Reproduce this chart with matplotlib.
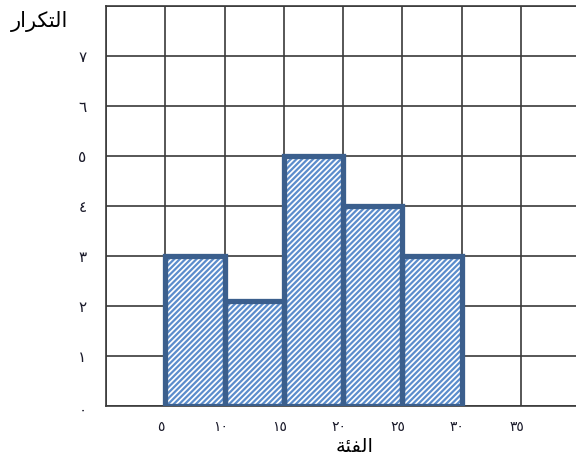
import matplotlib
matplotlib.use("Agg")
import matplotlib.pyplot as plt

# class intervals (left edges) and frequencies
class_starts = [5, 10, 15, 20, 25]
class_width = 5
freqs = [3, 2.1, 5, 4, 3]

x_ticks = [5, 10, 15, 20, 25, 30, 35]
x_labels = ["٥", "١٠", "١٥", "٢٠", "٢٥", "٣٠", "٣٥"]
y_ticks = [0, 1, 2, 3, 4, 5, 6, 7]
y_labels = ["٠", "١", "٢", "٣", "٤", "٥", "٦", "٧"]

# Arabic titles written in presentation forms (visual order) since matplotlib does no shaping
y_title = "\ufead\ufe8d\ufeae\ufedc\ufe98\ufedf\ufe8d"   # التكرار
x_title = "\ufe94\ufe8c\ufed4\ufedf\ufe8d"               # الفئة

plt.rcParams['font.family'] = ['DejaVu Sans']
plt.rcParams['hatch.linewidth'] = 1.6

fig = plt.figure(figsize=(5.76, 4.63), dpi=100)
ax = fig.add_axes([106/576, 57/463, 474/576, 400/463])

edge = "#3b5f8d"
stripe = "#5b8dcc"

# hatched fill, then the thick outline on top
ax.bar(class_starts, freqs, width=class_width, align='edge', color='white',
       edgecolor=stripe, linewidth=0, hatch='//////', zorder=2)
ax.bar(class_starts, freqs, width=class_width, align='edge', fill=False,
       edgecolor=edge, linewidth=3.8, zorder=3)

ax.set_xlim(0, 40)
ax.set_ylim(0, 8)
ax.set_xticks(range(0, 41, 5))
ax.set_yticks(range(0, 9))
ax.grid(True, color='#3a3a3a', linewidth=1.2, zorder=0)
ax.set_axisbelow(True)
for s in ax.spines.values():
    s.set_color('#3a3a3a')
    s.set_linewidth(1.2)
ax.tick_params(length=0, labelbottom=False, labelleft=False)

for x, lab in zip(x_ticks, x_labels):
    ax.annotate(lab, (x, 0), xytext=(-3, -15), textcoords='offset points',
                ha='center', va='center', fontsize=10, color='#1a1a2a')
for y, lab in zip(y_ticks, y_labels):
    ax.annotate(lab, (0, y), xytext=(-17, -1 if y else -3), textcoords='offset points',
                ha='center', va='center', fontsize=11, color='#1a1a2a')

fig.text(40/576, 1 - 22/463, y_title, ha='center', va='center', fontsize=15)
fig.text(355/576, 1 - 446/463, x_title, ha='center', va='center', fontsize=14)

fig.savefig("out.png", dpi=100)
